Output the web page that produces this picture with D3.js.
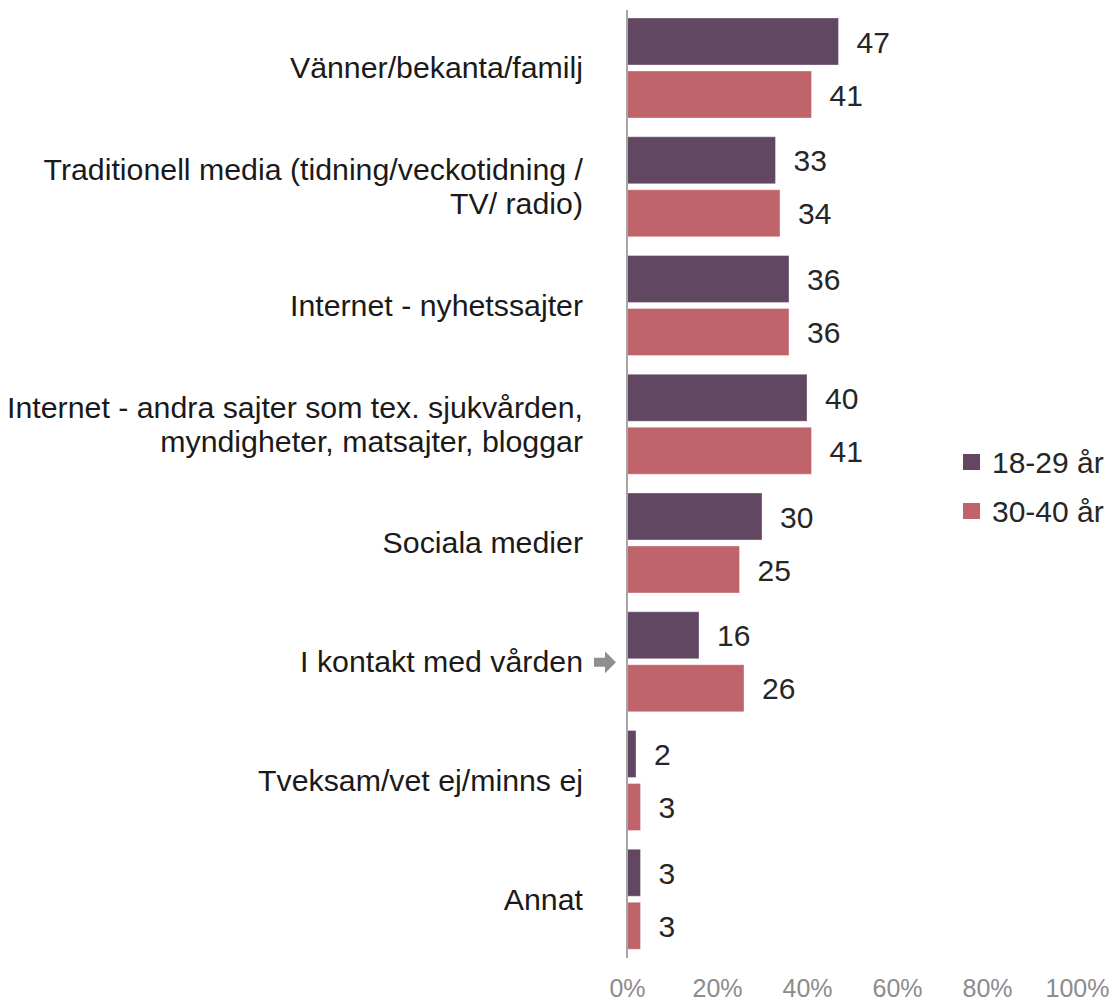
<!DOCTYPE html>
<html>
<head>
<meta charset="utf-8">
<script src="https://cdn.jsdelivr.net/npm/d3@7/dist/d3.min.js"></script>
<style>
  html, body { margin: 0; padding: 0; background: #fff; }
  svg { display: block; font-family: "Liberation Sans", Arial, sans-serif; }
</style>
</head>
<body>
<svg id="chart" width="1120" height="1002"></svg>
<script>
// Source categories (label lines) and survey shares in percent
const categories = [
  ["Vänner/bekanta/familj"],
  ["Traditionell media (tidning/veckotidning /", "TV/ radio)"],
  ["Internet - nyhetssajter"],
  ["Internet - andra sajter som tex. sjukvården,", "myndigheter, matsajter, bloggar"],
  ["Sociala medier"],
  ["I kontakt med vården"],
  ["Tveksam/vet ej/minns ej"],
  ["Annat"]
];
const seriesNames = ["18-29 år", "30-40 år"];
const values18to29 = [47, 33, 36, 40, 30, 16, 2, 3];
const values30to40 = [41, 34, 36, 41, 25, 26, 3, 3];
const tickValues = [0, 20, 40, 60, 80, 100];
const highlighted = "I kontakt med vården";

const colors = ["#624763", "#C0646C"];
const seriesValues = [values18to29, values30to40];

const svg = d3.select("#chart");

const x = d3.scaleLinear().domain([0, 100]).range([627, 1077]);
const keys = categories.map(c => c.join(" "));
const y = d3.scaleBand().domain(keys).range([10, 960]).paddingInner(0).paddingOuter(0);
const inner = d3.scaleBand().domain(seriesNames)
  .range([8, 108]).paddingInner(6 / 53).paddingOuter(0);

const rows = keys.map((k, i) => ({ key: k, lines: categories[i],
  vals: seriesNames.map((s, j) => ({ series: s, j, v: seriesValues[j][i] })) }));

const g = svg.append("g");

const rowG = g.selectAll("g.row").data(rows).join("g")
  .attr("class", "row")
  .attr("transform", d => `translate(0,${y(d.key)})`);

// Bars
rowG.selectAll("rect").data(d => d.vals).join("rect")
  .attr("x", x(0))
  .attr("y", d => inner(d.series))
  .attr("width", d => x(d.v) - x(0))
  .attr("height", inner.bandwidth())
  .attr("fill", d => colors[d.j])
  .attr("stroke", "rgba(255,255,255,0.35)")
  .attr("stroke-width", 1);

// Value labels
rowG.selectAll("text.val").data(d => d.vals).join("text")
  .attr("class", "val")
  .attr("x", d => x(d.v) + 18)
  .attr("y", d => inner(d.series) + inner.bandwidth() / 2 + 11)
  .attr("font-size", 30)
  .attr("fill", "#262626")
  .text(d => d.v);

// Category labels, right-aligned against the axis
const lineH = 34;
rowG.each(function(d) {
  const t = d3.select(this).append("text")
    .attr("text-anchor", "end")
    .attr("font-size", 30.3)
    .attr("fill", "#1a1a1a");
  const n = d.lines.length;
  const mid = y.bandwidth() / 2 - 2;
  d.lines.forEach((ln, i) => {
    t.append("tspan")
      .attr("x", 583)
      .attr("y", mid + (i - (n - 1) / 2) * lineH + 11)
      .text(ln);
  });
});

// Arrow marking one category
const hiY = y(highlighted) + y.bandwidth() / 2 - 1;
g.append("path")
  .attr("d", `M594,${hiY - 4.5} L605,${hiY - 4.5} L605,${hiY - 11} L616,${hiY} L605,${hiY + 11} L605,${hiY + 4.5} L594,${hiY + 4.5} Z`)
  .attr("fill", "#8f8f8f");

// Vertical axis line
g.append("line")
  .attr("x1", x(0)).attr("x2", x(0))
  .attr("y1", 10).attr("y2", 958)
  .attr("stroke", "#a6a6a6").attr("stroke-width", 2);

// Percent axis labels
const xAxis = d3.axisBottom(x).tickValues(tickValues).tickFormat(d => d + "%").tickSize(0).tickPadding(0);
const axG = svg.append("g").attr("transform", "translate(0,977)").call(xAxis);
axG.select(".domain").remove();
axG.selectAll("text")
  .attr("font-family", "Liberation Sans, Arial, sans-serif")
  .attr("font-size", 25)
  .attr("fill", "#8c8c8c")
  .attr("dy", "0.8em");

// Legend
const leg = svg.append("g").selectAll("g").data(seriesNames).join("g")
  .attr("transform", (d, i) => `translate(963,${454 + i * 49})`);
leg.append("rect").attr("width", 17).attr("height", 16).attr("fill", (d, i) => colors[i]);
leg.append("text").attr("x", 29).attr("y", 19).attr("font-size", 30).attr("fill", "#262626").text(d => d);
</script>
</body>
</html>
